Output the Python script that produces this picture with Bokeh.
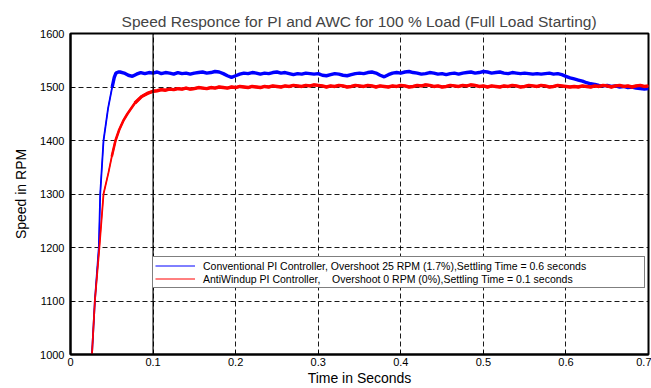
from bokeh.plotting import figure
from bokeh.models import Span, Legend, LegendItem, FixedTicker, Title
from bokeh.embed import file_html
from bokeh.resources import INLINE

# ---- data ----
rise_t_blue = [0.026, 0.0295, 0.0343, 0.036, 0.040, 0.0455, 0.0505, 0.053, 0.055, 0.058]
rise_v_blue = [1000, 1100, 1200, 1300, 1400, 1460, 1500, 1518, 1526, 1528]

rise_t_red = [0.026, 0.0295, 0.035, 0.040, 0.046, 0.050, 0.0545, 0.059, 0.064, 0.069,
              0.078, 0.086, 0.093]
rise_v_red = [1000, 1100, 1200, 1300, 1340, 1370, 1400, 1420, 1437, 1450,
              1470, 1482, 1488]

steady_t_blue = [round(0.060 + 0.005 * i, 3) for i in range(129)]
steady_v_blue = [
    1528, 1526, 1522, 1520, 1524, 1527, 1525, 1527, 1526, 1528,
    1525, 1527, 1526, 1524, 1527, 1525, 1526, 1524, 1526, 1527,
    1528, 1526, 1527, 1529, 1528, 1525, 1521, 1518, 1521, 1524,
    1526, 1525, 1527, 1526, 1524, 1526, 1525, 1527, 1528, 1526,
    1527, 1525, 1523, 1525, 1524, 1526, 1525, 1524, 1525, 1522,
    1521, 1523, 1525, 1524, 1522, 1521, 1523, 1525, 1526, 1525,
    1527, 1528, 1526, 1522, 1519, 1523, 1526, 1527, 1526, 1528,
    1529, 1527, 1526, 1524, 1525, 1527, 1526, 1524, 1525, 1523,
    1525, 1526, 1524, 1526, 1527, 1528, 1526, 1527, 1529, 1528,
    1526, 1527, 1528, 1526, 1525, 1527, 1526, 1525, 1526, 1525,
    1524, 1525, 1524, 1525, 1526, 1524, 1525, 1523, 1520, 1517,
    1515, 1513, 1511, 1508, 1506, 1505, 1503, 1502, 1503, 1501,
    1502, 1500, 1501, 1499, 1500, 1498, 1497, 1496, 1497,
]

steady_t_red = [round(0.100 + 0.005 * i, 3) for i in range(121)]
steady_v_red = [
    1492, 1493, 1495, 1494, 1496, 1495, 1497, 1496, 1498, 1496,
    1497, 1499, 1498, 1497, 1499, 1498, 1500, 1499, 1498, 1500,
    1499, 1501, 1500, 1499, 1501, 1500, 1499, 1501, 1500, 1502,
    1501, 1500, 1502, 1501, 1503, 1502, 1501, 1503, 1502, 1504,
    1503, 1502, 1500, 1502, 1501, 1503, 1502, 1500, 1501, 1503,
    1502, 1501, 1503, 1502, 1500, 1502, 1501, 1500, 1502, 1501,
    1503, 1502, 1500, 1501, 1503, 1502, 1504, 1503, 1501, 1502,
    1500, 1501, 1503, 1502, 1501, 1503, 1502, 1504, 1503, 1501,
    1502, 1500, 1502, 1501, 1500, 1502, 1501, 1503, 1502, 1500,
    1501, 1503, 1502, 1501, 1503, 1502, 1500, 1501, 1503, 1502,
    1501, 1500, 1501, 1500, 1502, 1501, 1500, 1502, 1501, 1503,
    1502, 1500, 1502, 1503, 1501, 1502, 1500, 1502, 1503, 1501,
    1502,
]

x_ticks = [0, 0.1, 0.2, 0.3, 0.4, 0.5, 0.6, 0.7]
y_ticks = [1000, 1100, 1200, 1300, 1400, 1500, 1600]
settling_marker_t = 0.1

title_text = "Speed Responce for PI and AWC for 100 % Load (Full Load Starting)"
label_blue = "Conventional PI Controller, Overshoot 25 RPM (1.7%),Settling Time = 0.6 seconds"
label_red = "AntiWindup PI Controller,\u00a0\u00a0\u00a0 Overshoot 0 RPM (0%),Settling Time = 0.1 seconds"

blue_t = rise_t_blue + steady_t_blue
blue_v = rise_v_blue + steady_v_blue
red_t = rise_t_red + steady_t_red
red_v = rise_v_red + steady_v_red

FONT = "Liberation Sans"

p = figure(width=651, height=388, output_backend="svg", toolbar_location=None,
           x_range=(0, 0.7), y_range=(1000, 1600),
           min_border_left=70, min_border_right=3, min_border_top=33, min_border_bottom=33)

p.title = Title(text=title_text, align="center", text_font=FONT,
                text_font_size="15.5px", text_font_style="normal", offset=0, standoff=8)

p.xaxis.ticker = FixedTicker(ticks=x_ticks)
p.yaxis.ticker = FixedTicker(ticks=y_ticks)
p.xaxis.major_label_overrides = {0: "0"}
for ax in (p.xaxis[0], p.yaxis[0]):
    ax.major_tick_in = 4
    ax.major_tick_out = 0
    ax.minor_tick_in = 0
    ax.minor_tick_out = 0
    ax.axis_line_width = 2
    ax.axis_line_color = "black"
    ax.major_label_text_font = FONT
    ax.major_label_text_font_size = "11px"
    ax.major_label_text_color = "black"
    ax.axis_label_text_font = FONT
    ax.axis_label_text_font_size = "14px"
    ax.axis_label_text_font_style = "normal"
    ax.axis_label_text_color = "black"
    ax.major_label_standoff = 3
p.xaxis.axis_label = "Time in Seconds"
p.yaxis.axis_label = "Speed in RPM"
p.xaxis.axis_label_standoff = 1
p.yaxis.axis_label_standoff = 8
p.yaxis.major_label_standoff = 6

p.outline_line_color = "black"
p.outline_line_width = 2
p.outline_line_alpha = 1

for g in (p.xgrid[0], p.ygrid[0]):
    g.grid_line_color = "black"
    g.grid_line_dash = "5 3"
    g.grid_line_width = 1
    g.grid_line_alpha = 0.9

p.add_layout(Span(location=settling_marker_t, dimension="height",
                  line_color="black", line_width=1.2))

# hairline traces used only as legend swatches (hidden beneath the drawn traces)
rb = p.line(blue_t, blue_v, line_color="#0000ff", line_width=1)
rr = p.line(red_t, red_v, line_color="#ff0000", line_width=1)
# full traces
p.line(blue_t, blue_v, line_color="#0000ff", line_width=1.8)
p.line(blue_t[6:], blue_v[6:], line_color="#0000ff", line_width=3.4)
p.line(red_t, red_v, line_color="#ff0000", line_width=1.8)
p.line(red_t[5:], red_v[5:], line_color="#ff0000", line_width=2.6)
p.line(red_t[10:], red_v[10:], line_color="#ff0000", line_width=3.4)

legend = Legend(items=[LegendItem(label=label_blue, renderers=[rb]),
                       LegendItem(label=label_red, renderers=[rr])],
                location=(82, 66))
legend.label_text_font = FONT
legend.label_text_font_size = "10.5px"
legend.label_text_color = "black"
legend.glyph_width = 40
legend.glyph_height = 13
legend.label_height = 13
legend.label_width = 439
legend.spacing = 0
legend.padding = 2
legend.margin = 0
legend.label_standoff = 8
legend.border_line_color = "black"
legend.border_line_width = 1.5
legend.background_fill_alpha = 1
p.add_layout(legend, "center")

open("out.html", "w").write(file_html(p, INLINE))
